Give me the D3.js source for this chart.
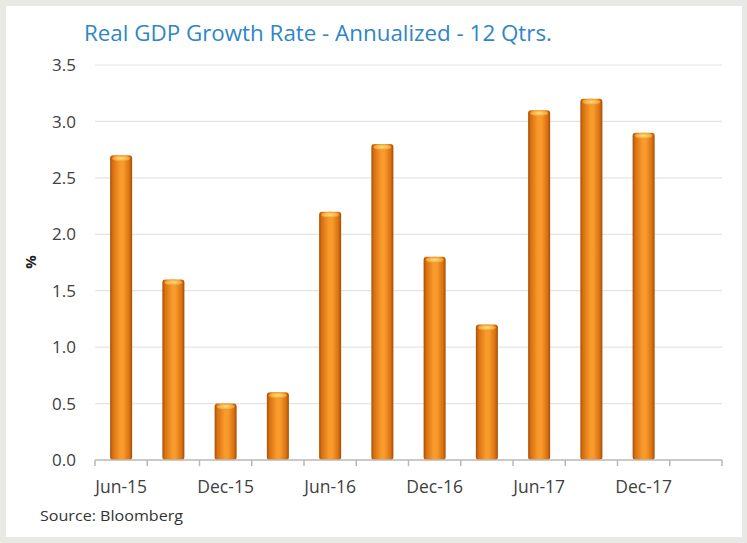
<!DOCTYPE html>
<html>
<head>
<meta charset="utf-8">
<script src="https://cdn.jsdelivr.net/npm/d3@7"></script>
<style>
  html, body { margin: 0; padding: 0; background: #e8e8e5; }
  svg { display: block; }
</style>
</head>
<body>
<svg id="chart" width="747" height="543"></svg>
<script>
// Quarterly real GDP growth, annualized (%), last 12 quarters
const quarters = ["Jun-15", "Sep-15", "Dec-15", "Mar-16", "Jun-16", "Sep-16",
                  "Dec-16", "Mar-17", "Jun-17", "Sep-17", "Dec-17", "Mar-18"];
const growth = [2.7, 1.6, 0.5, 0.6, 2.2, 2.8, 1.8, 1.2, 3.1, 3.2, 2.9, null];
const yTicks = [0, 0.5, 1.0, 1.5, 2.0, 2.5, 3.0, 3.5];
const xLabels = ["Jun-15", "Dec-15", "Jun-16", "Dec-16", "Jun-17", "Dec-17"];

const FONT = "'Open Sans', Lato, sans-serif";
const svg = d3.select("#chart");

// panel
svg.append("rect").attr("x", 6).attr("y", 6).attr("width", 736).attr("height", 531)
  .attr("fill", "#ffffff");

const plot = { left: 95, right: 722, top: 65, bottom: 460 };

const x = d3.scaleBand().domain(quarters).range([plot.left, plot.right]).paddingInner(0).paddingOuter(0);
const y = d3.scaleLinear().domain([0, 3.5]).range([plot.bottom, plot.top]);

const defs = svg.append("defs");
const body = defs.append("linearGradient").attr("id", "barBody").attr("x1", "0").attr("x2", "1").attr("y1", "0").attr("y2", "0");
[[0, "#a84e08"], [0.12, "#d8700f"], [0.45, "#f99a2c"], [0.6, "#f99a2c"], [0.88, "#d8700f"], [1, "#a44b08"]]
  .forEach(([o, c]) => body.append("stop").attr("offset", o).attr("stop-color", c));
const cap = defs.append("radialGradient").attr("id", "barCap").attr("cx", "0.5").attr("cy", "0.5").attr("r", "0.6");
[[0, "#fde08a"], [0.6, "#f8b040"], [1, "#e8861c"]]
  .forEach(([o, c]) => cap.append("stop").attr("offset", o).attr("stop-color", c));

// gridlines
svg.append("g").selectAll("line").data(yTicks.filter(d => d > 0)).join("line")
  .attr("x1", plot.left).attr("x2", plot.right)
  .attr("y1", d => y(d)).attr("y2", d => y(d))
  .attr("stroke", "#e4e4e4").attr("stroke-width", 1.2);

// y tick labels
svg.append("g").selectAll("text").data(yTicks).join("text")
  .attr("x", 76).attr("y", d => y(d)).attr("dy", "0.36em")
  .attr("text-anchor", "end")
  .attr("font-family", FONT).attr("font-size", 17).attr("fill", "#404040")
  .text(d => d.toFixed(1));

// bars
const barW = 22;
const data = quarters.map((q, i) => ({ q, v: growth[i] })).filter(d => d.v != null);
const bars = svg.append("g").selectAll("g").data(data).join("g");
bars.append("rect")
  .attr("x", d => x(d.q) + x.bandwidth() / 2 - barW / 2)
  .attr("y", d => y(d.v))
  .attr("width", barW)
  .attr("height", d => y(0) - y(d.v))
  .attr("rx", 3)
  .attr("fill", "url(#barBody)");
bars.append("ellipse")
  .attr("cx", d => x(d.q) + x.bandwidth() / 2)
  .attr("cy", d => y(d.v) + 3)
  .attr("rx", barW / 2 - 2)
  .attr("ry", 3)
  .attr("fill", "url(#barCap)");

// x axis
const xAxis = svg.append("g");
xAxis.append("line").attr("x1", plot.left).attr("x2", plot.right)
  .attr("y1", plot.bottom).attr("y2", plot.bottom)
  .attr("stroke", "#b8b8b8").attr("stroke-width", 1.5);
const boundaries = quarters.map(q => x(q)).concat([plot.right]);
xAxis.selectAll("line.tick").data(boundaries).join("line").attr("class", "tick")
  .attr("x1", d => d).attr("x2", d => d)
  .attr("y1", plot.bottom).attr("y2", plot.bottom + 6)
  .attr("stroke", "#b8b8b8").attr("stroke-width", 1.5);
xAxis.selectAll("text").data(xLabels).join("text")
  .attr("x", d => x(d) + x.bandwidth() / 2)
  .attr("y", 493)
  .attr("text-anchor", "middle")
  .attr("font-family", FONT).attr("font-size", 17.5).attr("fill", "#404040")
  .text(d => d);

// y axis title
svg.append("text")
  .attr("transform", "translate(36,262) rotate(-90)")
  .attr("text-anchor", "middle")
  .attr("font-family", FONT).attr("font-size", 15).attr("font-weight", "bold").attr("fill", "#222")
  .text("%");

// title
svg.append("text")
  .attr("x", 84).attr("y", 41)
  .attr("font-family", FONT).attr("font-size", 21).attr("fill", "#2f86c6")
  .attr("textLength", 468).attr("lengthAdjust", "spacingAndGlyphs")
  .text("Real GDP Growth Rate - Annualized - 12 Qtrs.");

// source
svg.append("text")
  .attr("x", 40).attr("y", 521)
  .attr("font-family", FONT).attr("font-size", 14.5).attr("fill", "#333")
  .attr("textLength", 143).attr("lengthAdjust", "spacingAndGlyphs")
  .text("Source: Bloomberg");
</script>
</body>
</html>
